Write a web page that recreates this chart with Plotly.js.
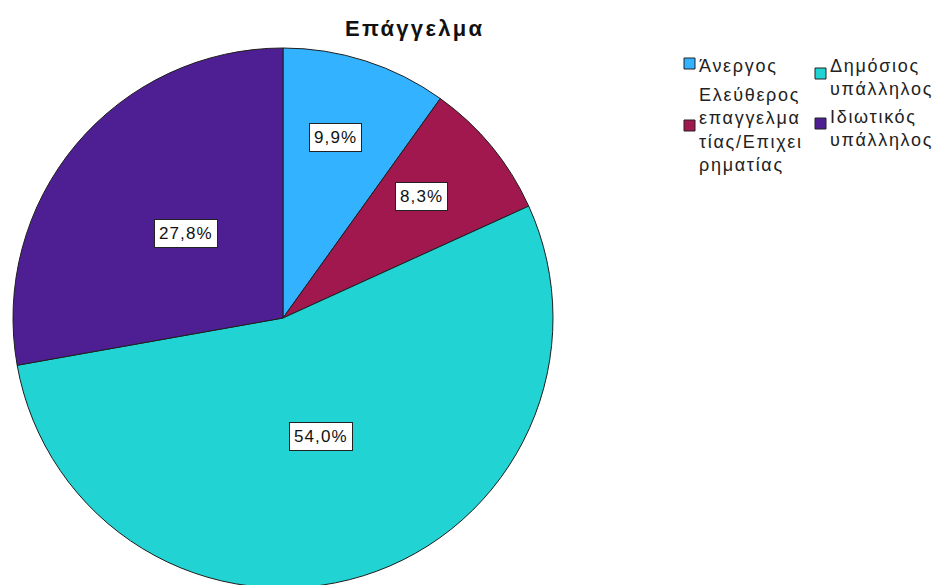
<!DOCTYPE html>
<html>
<head>
<meta charset="utf-8">
<script src="https://cdn.plot.ly/plotly-3.0.1.min.js"></script>
<style>html,body{margin:0;padding:0;overflow:hidden;background:#fff;}#chart{width:944px;height:590px;}</style>
</head>
<body>
<div id="chart"></div>
<script>
// Data
const categories = ["Άνεργος", "Ελεύθερος επαγγελματίας/Επιχειρηματίας", "Δημόσιος υπάλληλος", "Ιδιωτικός υπάλληλος"];
const percentages = [9.9, 8.3, 54.0, 27.8];
const percentLabels = ["9,9%", "8,3%", "54,0%", "27,8%"];
const legendLines = [["Άνεργος"], ["Ελεύθερος", "επαγγελμα", "τίας/Επιχει", "ρηματίας"], ["Δημόσιος", "υπάλληλος"], ["Ιδιωτικός", "υπάλληλος"]];
const sliceColors = ["#33b2ff", "#a0184d", "#22d3d4", "#4e1f92"];
const chartTitle = "Επάγγελμα";

// Layout geometry (pixels)
const W = 944, H = 590;
const pieLeft = 13, pieRight = 553, pieTop = 48, pieBottom = 588;
const cxPx = (pieLeft + pieRight) / 2, cyPx = (pieTop + pieBottom) / 2;
const R = (pieRight - pieLeft) / 2;
const FONT = "Liberation Sans, Arial, sans-serif";
const spaced = (t, ls) => '<span style="letter-spacing:' + ls + 'px">' + t + '</span>';

const trace = {
  type: "pie",
  labels: categories,
  values: percentages,
  sort: false,
  direction: "clockwise",
  rotation: 0,
  marker: {colors: sliceColors, line: {color: "#1e1e1e", width: 1}},
  textinfo: "none",
  hoverinfo: "label+percent",
  showlegend: false,
  domain: {x: [pieLeft / W, pieRight / W], y: [(H - pieBottom) / H, (H - pieTop) / H]}
};

const annotations = [];
// Percentage label boxes placed from the data's slice angles
const total = percentages.reduce((a, b) => a + b, 0);
let cum = 0;
percentages.forEach((v, i) => {
  const mid = (cum + v / 2) / total * 2 * Math.PI;
  cum += v;
  const small = (v / total) < 0.15;
  const frac = small ? 0.69 : 0.47;
  const xp = cxPx + R * frac * Math.sin(mid) - (small ? 5 : 0);
  const yp = cyPx - R * frac * Math.cos(mid) - 3;
  annotations.push({
    xref: "paper", yref: "paper", x: xp / W, y: 1 - yp / H,
    xanchor: "center", yanchor: "middle", showarrow: false,
    text: spaced(percentLabels[i], 1.1),
    font: {family: FONT, size: 17, color: "#111"},
    bgcolor: "#ffffff", bordercolor: "#222", borderwidth: 1, borderpad: 4
  });
});

// Title
annotations.push({
  xref: "paper", yref: "paper", x: 414 / W, y: 1 - 28 / H,
  xanchor: "center", yanchor: "middle", showarrow: false,
  text: "<b>" + spaced(chartTitle, 2.3) + "</b>",
  font: {family: FONT, size: 22, color: "#111"}
});

// Custom legend (two columns)
const legendPos = [
  {tx: 698, ty: 55, sx: 684, sy: 58},
  {tx: 698, ty: 84, sx: 684, sy: 120},
  {tx: 829, ty: 55, sx: 815, sy: 68},
  {tx: 829, ty: 106, sx: 815, sy: 118}
];
const shapes = [];
categories.forEach((c, i) => {
  const p = legendPos[i];
  annotations.push({
    xref: "paper", yref: "paper", x: p.tx / W, y: 1 - p.ty / H,
    xanchor: "left", yanchor: "top", align: "left", showarrow: false,
    text: legendLines[i].map(l => spaced(l, 1.7)).join("<br>"),
    font: {family: FONT, size: 18, color: "#222"}, borderpad: 0
  });
  shapes.push({
    type: "rect", xref: "paper", yref: "paper",
    x0: p.sx / W, x1: (p.sx + 11) / W, y0: 1 - (p.sy + 11) / H, y1: 1 - p.sy / H,
    fillcolor: sliceColors[i], line: {color: "#222", width: 1}
  });
});

const layout = {
  width: W, height: H,
  margin: {l: 0, r: 0, t: 0, b: 0},
  paper_bgcolor: "#fff",
  showlegend: false,
  annotations: annotations,
  shapes: shapes
};

Plotly.newPlot("chart", [trace], layout, {displayModeBar: false, staticPlot: true});
</script>
</body>
</html>
